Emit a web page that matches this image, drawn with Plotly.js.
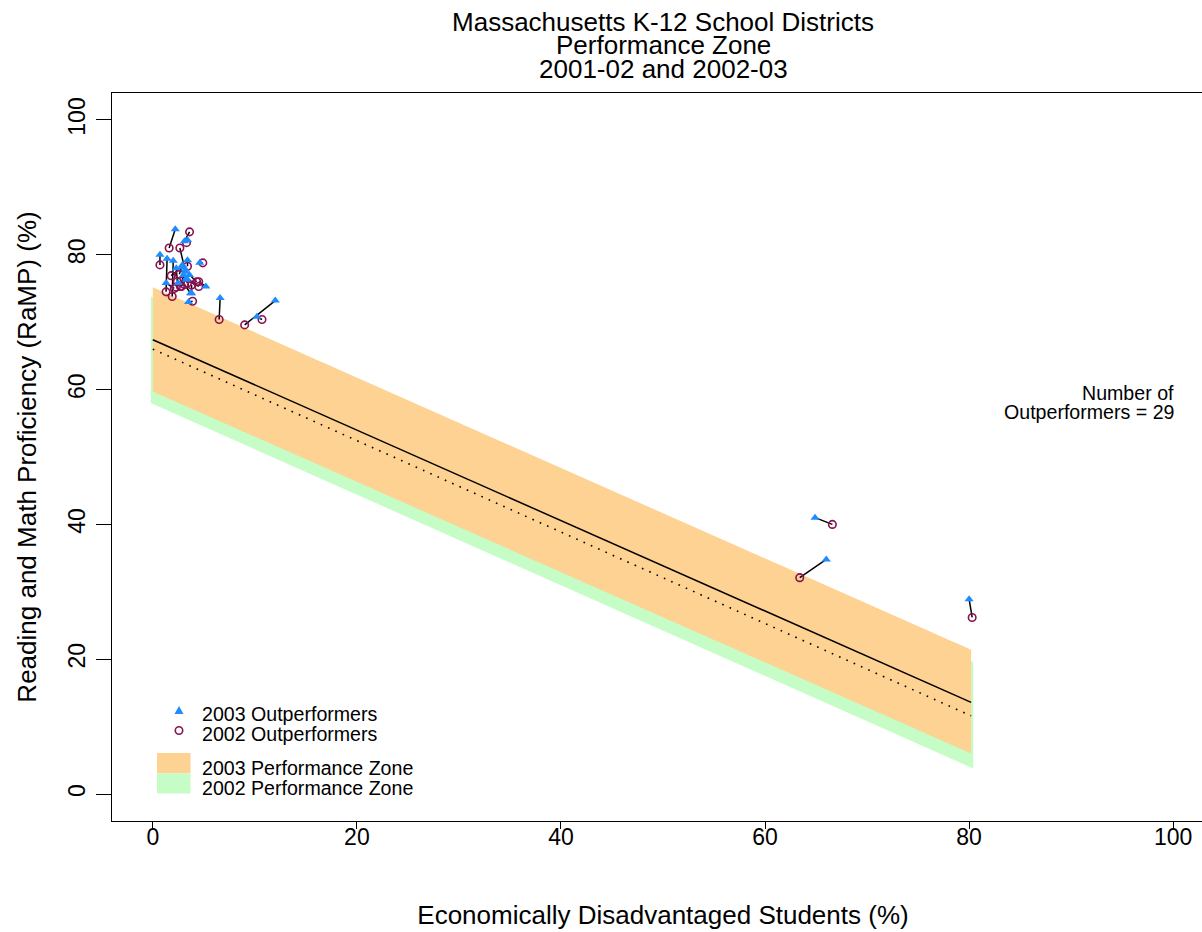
<!DOCTYPE html>
<html><head><meta charset="utf-8">
<script src="https://cdn.plot.ly/plotly-3.0.1.min.js"></script>
<style>html,body{margin:0;padding:0;overflow:hidden;background:#fff}#chart{width:1220px;height:932px}</style>
</head><body><div id="chart"></div>
<script>
// 2003 outperformers (triangles) and their 2002 values (circles)
const x2003 = [2.2, 3.1, 3.4, 0.7, 1.4, 2.0, 3.2, 3.4, 4.6, 2.9, 2.9, 3.2, 3.3, 5.2, 1.3, 3.8, 3.5, 3.3, 2.5, 3.6, 2.3, 3.0, 3.7, 6.6, 12.0, 10.2, 64.9, 66.0, 80.0];
const y2003 = [83.8, 82.0, 82.2, 80.0, 79.4, 79.1, 77.5, 79.2, 78.8, 78.5, 78.2, 77.8, 76.3, 75.3, 75.8, 74.3, 73.0, 76.5, 75.8, 77.0, 78.0, 77.0, 74.3, 73.6, 73.2, 70.8, 41.0, 34.8, 28.9];
const x2002 = [1.6, 3.6, 3.3, 0.7, 1.3, 1.9, 2.65, 3.4, 4.9, 2.6, 1.8, 2.7, 4.5, 4.5, 2.1, 3.8, 3.9, 2.8, 2.3, 4.3, 2.4, 3.4, 3.1, 6.5, 9.0, 10.7, 66.6, 63.4, 80.3];
const y2002 = [81.0, 83.4, 81.8, 78.5, 74.5, 73.8, 81.0, 78.3, 78.8, 77.1, 76.9, 75.3, 75.3, 76.0, 75.0, 75.5, 73.1, 75.3, 75.2, 76.0, 76.0, 75.8, 75.6, 70.4, 69.6, 70.4, 40.0, 32.1, 26.2];

// Performance zones (x extent, upper and lower bounds)
const zone2003X = [0, 80.2];
const zone2003Upper = [75.2, 21.4];
const zone2003Lower = [59.7, 6.0];
const zone2002X = [-0.2, 80.4];
const zone2002Upper = [73.8, 19.6];
const zone2002Lower = [58.0, 3.8];

// Regression lines
const fitX = [0, 80.2];
const fit2003Y = [67.4, 13.6];
const fit2002Y = [66.0, 11.6];

const xTicks = [0, 20, 40, 60, 80, 100];
const yTicks = [0, 20, 40, 60, 80, 100];
const nOutperformers = 29;

function poly(xs, up, lo) {
  return {x: [xs[0], xs[1], xs[1], xs[0], xs[0]], y: [up[0], up[1], lo[1], lo[0], up[0]]};
}
const z02 = poly(zone2002X, zone2002Upper, zone2002Lower);
const z03 = poly(zone2003X, zone2003Upper, zone2003Lower);

const segX = [], segY = [];
for (let i = 0; i < x2003.length; i++) {
  segX.push(x2003[i], x2002[i], null);
  segY.push(y2003[i], y2002[i], null);
}

const traces = [
  {x: z02.x, y: z02.y, type: 'scatter', mode: 'lines', fill: 'toself', fillcolor: '#C6FCC6', line: {width: 0, color: '#C6FCC6'}, name: '2002 Performance Zone', hoverinfo: 'skip'},
  {x: z03.x, y: z03.y, type: 'scatter', mode: 'lines', fill: 'toself', fillcolor: '#FDD293', line: {width: 0, color: '#FDD293'}, name: '2003 Performance Zone', hoverinfo: 'skip'},
  {x: fitX, y: fit2003Y, type: 'scatter', mode: 'lines', line: {color: '#000', width: 1.5}, name: '2003 fit'},
  {x: fitX, y: fit2002Y, type: 'scatter', mode: 'lines', line: {color: '#000', width: 1.6, dash: '1.6px,6.4px'}, name: '2002 fit'},
  {x: segX, y: segY, type: 'scatter', mode: 'lines', line: {color: '#000', width: 1.5}, name: 'change', connectgaps: false},
  {x: x2002, y: y2002, type: 'scatter', mode: 'markers', marker: {symbol: 'circle-open', size: 7.5, color: '#8B1050', line: {width: 1.6, color: '#8B1050'}}, name: '2002 Outperformers'},
  {x: x2003, y: y2003, type: 'scatter', mode: 'markers', marker: {symbol: 'triangle-up', size: 8, color: '#1E8BFF', line: {width: 0}}, name: '2003 Outperformers'}
];

// plot-area pixel helpers for the legend (paper coordinates)
const L = 112, R = 1214, T = 93, B = 821;
const px = v => (v - L) / (R - L);
const py = v => (B - v) / (B - T);

const legFont = {size: 19.6, color: '#000'};
const annotations = [
  {text: 'Performance Zone', xref: 'paper', yref: 'paper', x: 0.5, y: py(45), xanchor: 'center', yanchor: 'middle', showarrow: false, font: {size: 26}},
  {text: '2001-02 and 2002-03', xref: 'paper', yref: 'paper', x: 0.5, y: py(69), xanchor: 'center', yanchor: 'middle', showarrow: false, font: {size: 26}},
  {text: 'Number of', xref: 'x', yref: 'paper', x: 100, xshift: 3, y: py(393), xanchor: 'right', yanchor: 'middle', showarrow: false, font: legFont},
  {text: 'Outperformers = ' + nOutperformers, xref: 'x', yref: 'paper', x: 100, xshift: 3, y: py(412), xanchor: 'right', yanchor: 'middle', showarrow: false, font: legFont},
  {text: '2003 Outperformers', xref: 'paper', yref: 'paper', x: px(200), y: py(713.5), xanchor: 'left', yanchor: 'middle', showarrow: false, font: legFont},
  {text: '2002 Outperformers', xref: 'paper', yref: 'paper', x: px(200), y: py(733.5), xanchor: 'left', yanchor: 'middle', showarrow: false, font: legFont},
  {text: '2003 Performance Zone', xref: 'paper', yref: 'paper', x: px(200), y: py(768), xanchor: 'left', yanchor: 'middle', showarrow: false, font: legFont},
  {text: '2002 Performance Zone', xref: 'paper', yref: 'paper', x: px(200), y: py(787.5), xanchor: 'left', yanchor: 'middle', showarrow: false, font: legFont}
];

const shapes = [
  {type: 'rect', xref: 'paper', yref: 'paper', x0: px(157), x1: px(190.5), y0: py(753), y1: py(773.3), fillcolor: '#FDD293', line: {width: 0}},
  {type: 'rect', xref: 'paper', yref: 'paper', x0: px(157), x1: px(190.5), y0: py(773.3), y1: py(793.5), fillcolor: '#C6FCC6', line: {width: 0}},
  {type: 'path', xref: 'paper', yref: 'paper', xsizemode: 'pixel', ysizemode: 'pixel', xanchor: px(179), yanchor: py(710.5), path: 'M-4.5,-3.5 L4.5,-3.5 L0,4.5 Z', fillcolor: '#1E8BFF', line: {width: 0}},
  {type: 'circle', xref: 'paper', yref: 'paper', xsizemode: 'pixel', ysizemode: 'pixel', xanchor: px(179), yanchor: py(730.5), x0: -3.7, x1: 3.7, y0: -3.7, y1: 3.7, line: {color: '#8B1050', width: 1.6}}
];

const axisCommon = {
  range: [-4, 104], ticks: 'outside', tickcolor: '#000', tickwidth: 1,
  showline: true, mirror: true, linecolor: '#000', linewidth: 1,
  showgrid: false, zeroline: false, tickfont: {size: 23, color: '#000'}, fixedrange: true
};

const layout = {
  width: 1220, height: 932,
  margin: {l: L, r: 1220 - R, t: T, b: 932 - B},
  paper_bgcolor: '#fff', plot_bgcolor: '#fff',
  font: {family: 'Liberation Sans, Arial, Helvetica, sans-serif', color: '#000'},
  showlegend: false,
  title: {text: 'Massachusetts K-12 School Districts', font: {size: 26, color: '#000'}, xref: 'paper', x: 0.5, xanchor: 'center', yref: 'container', y: 1 - 22 / 932, yanchor: 'middle'},
  xaxis: Object.assign({}, axisCommon, {tickvals: xTicks, ticklen: 7, ticklabelstandoff: -12, title: {text: 'Economically Disadvantaged Students (%)', font: {size: 26, color: '#000'}, standoff: 57}}),
  yaxis: Object.assign({}, axisCommon, {tickvals: yTicks, ticklen: 15, tickangle: -90, ticklabelstandoff: 2, title: {text: 'Reading and Math Proficiency (RaMP) (%)', font: {size: 26, color: '#000'}, standoff: 19}}),
  annotations: annotations,
  shapes: shapes
};

Plotly.newPlot('chart', traces, layout, {displayModeBar: false, staticPlot: true});
</script></body></html>
